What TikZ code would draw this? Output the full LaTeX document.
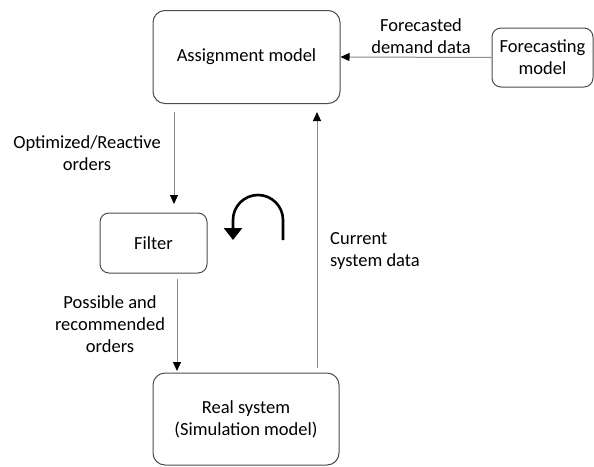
\documentclass[tikz,border=0pt]{standalone}
\usepackage{fontspec}
\setmainfont{Carlito}
\usetikzlibrary{arrows.meta}
\begin{document}
\begin{tikzpicture}[x=1pt,y=-1pt,
  box/.style={draw=black!70, line width=1pt, rounded corners=12pt, align=center, inner sep=0pt},
  flow/.style={draw=black!45, line width=1pt, -{Triangle[length=9pt,width=8pt,color=black]}},
  lbl/.style={align=center, inner sep=0pt},
  font=\fontsize{18.5}{22}\selectfont]
\useasboundingbox (0,0) rectangle (594,466);
\node[box, minimum width=187pt, minimum height=93pt] (am) at (246.5,57) {Assignment model};
\node[box, rounded corners=9pt, minimum width=101pt, minimum height=59pt] (fm) at (542.5,57.5) {Forecasting\\model};
\node[box, rounded corners=9pt, minimum width=107pt, minimum height=60pt] (fi) at (153.5,243) {Filter};
\node[box, minimum width=186pt, minimum height=92pt] (rs) at (246,419) {Real system\\(Simulation model)};
\coordinate (amb1) at (174,112);
\coordinate (fit) at (174,204);
\coordinate (fib) at (177,279);
\coordinate (rst) at (177,371);
\coordinate (rsu) at (317,368);
\coordinate (amu) at (317,112);
\draw[flow] (fm.west) -- (am.east);
\draw[flow] (amb1) -- (fit);
\draw[flow] (fib) -- (rst);
\draw[flow] (rsu) -- (amu);
\node[lbl] (l1) at (421,36) {Forecasted\\demand data};
\node[lbl] (l2) at (87,153) {Optimized/Reactive\\orders};
\node[lbl] (l3) at (110,324) {Possible and\\recommended\\orders};
\node[lbl, align=left] (l4) at (375,251) {Current\\system data};
\coordinate (c1) at (283,240);
\draw[line width=2.6pt, -{Triangle[length=12pt,width=18pt]}] (c1) -- (283,220) arc[start angle=0, end angle=-180, radius=25] -- ++(0,20);
\end{tikzpicture}
\end{document}
